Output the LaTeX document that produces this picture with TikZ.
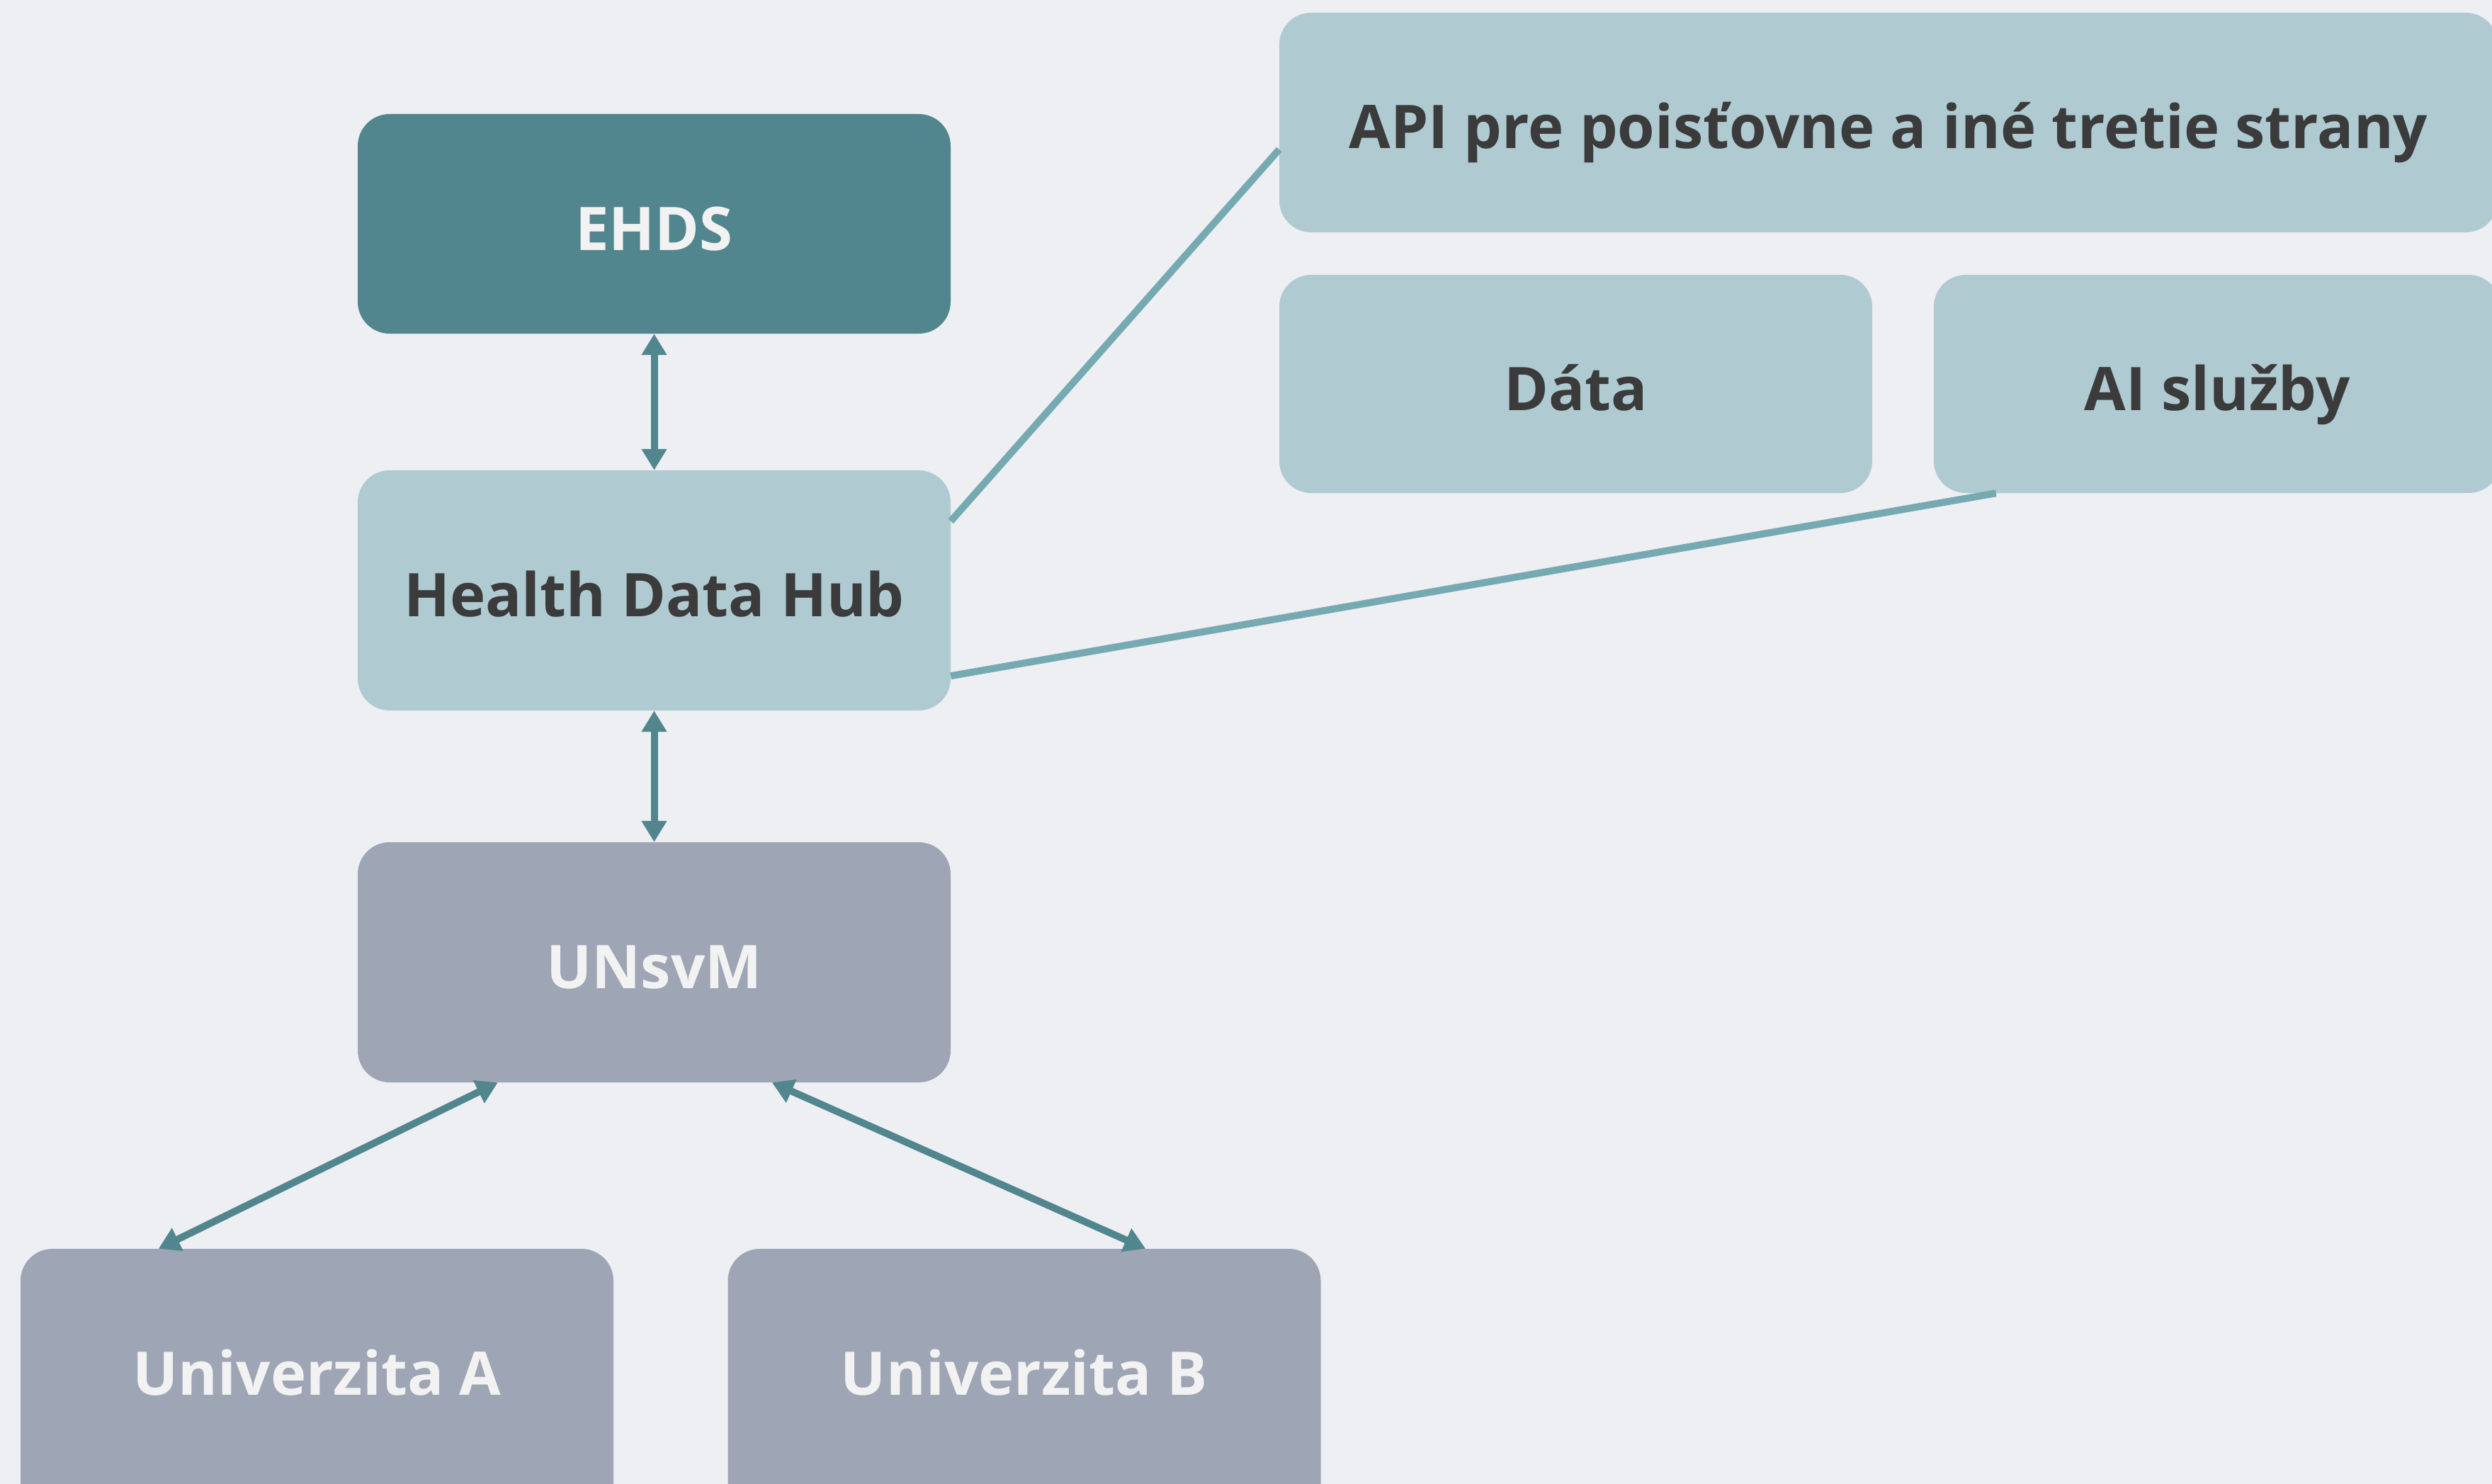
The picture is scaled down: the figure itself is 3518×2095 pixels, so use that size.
\documentclass[tikz,border=0pt]{standalone}
\usepackage{fontspec}
\setmainfont{Open Sans}
\usetikzlibrary{arrows.meta,calc}
\definecolor{bgc}{HTML}{EDEFF2}
\definecolor{darkteal}{HTML}{52868E}
\definecolor{lightteal}{HTML}{AFCBD1}
\definecolor{greyblue}{HTML}{9EA5B4}
\definecolor{linkc}{HTML}{76AAB2}
\definecolor{darktext}{HTML}{3B3B3B}
\definecolor{lighttext}{HTML}{F2F2F2}
\tikzset{
  box/.style={rounded corners=45pt, inner sep=0pt, minimum width=837pt, minimum height=339pt,
    text height=80pt, text depth=6pt,
    font=\fontsize{85}{100}\selectfont\bfseries, align=center},
  darkbox/.style={box, fill=darkteal, text=lighttext},
  tealbox/.style={box, fill=lightteal, text=darktext},
  greybox/.style={box, fill=greyblue, text=lighttext},
  unibox/.style={greybox, minimum height=400pt, text height=80pt, text depth=68pt},
  biarrow/.style={draw=darkteal, line width=10pt, {Triangle[width=34pt,length=30pt]}-{Triangle[width=34pt,length=30pt]}},
  linkline/.style={draw=linkc, line width=10pt}
}
\begin{document}
\begin{tikzpicture}
\useasboundingbox (0,0) rectangle (3518pt,-2095pt);
\clip (0,0) rectangle (3518pt,-2095pt);
\fill[bgc] (0,0) rectangle (3518pt,-2095pt);

\node[darkbox, minimum height=310pt] (ehds) at (923.5pt,-316pt) {EHDS};
\node[tealbox] (hdh) at (923.5pt,-833.5pt) {Health Data Hub};
\node[greybox] (unsvm) at (923.5pt,-1358.5pt) {UNsvM};
\node[unibox] (ua) at (447.5pt,-1963pt) {Univerzita A};
\node[unibox] (ub) at (1446pt,-1963pt) {Univerzita B};

\node[tealbox, minimum width=1720pt, minimum height=310pt] (api) at (2666pt,-173pt) {API pre poisťovne a iné tretie strany};
\node[tealbox, minimum height=308pt] (data) at (2224.5pt,-542pt) {Dáta};
\node[tealbox, minimum width=800pt, minimum height=308pt] (ai) at (3130pt,-542pt) {AI služby};

\draw[biarrow] (ehds.south) -- (hdh.north);
\draw[biarrow] (hdh.south) -- (unsvm.north);
\draw[biarrow] ([xshift=198pt]unsvm.south west) -- ([xshift=195pt]ua.north west);
\draw[biarrow] ([xshift=585pt]unsvm.south west) -- ([xshift=590pt]ub.north west);

\draw[linkline] ([yshift=-72pt]hdh.north east) -- ([yshift=-38pt]api.west);
\draw[linkline] ([yshift=49pt]hdh.south east) -- ([xshift=88pt]ai.south west);
\end{tikzpicture}
\end{document}
